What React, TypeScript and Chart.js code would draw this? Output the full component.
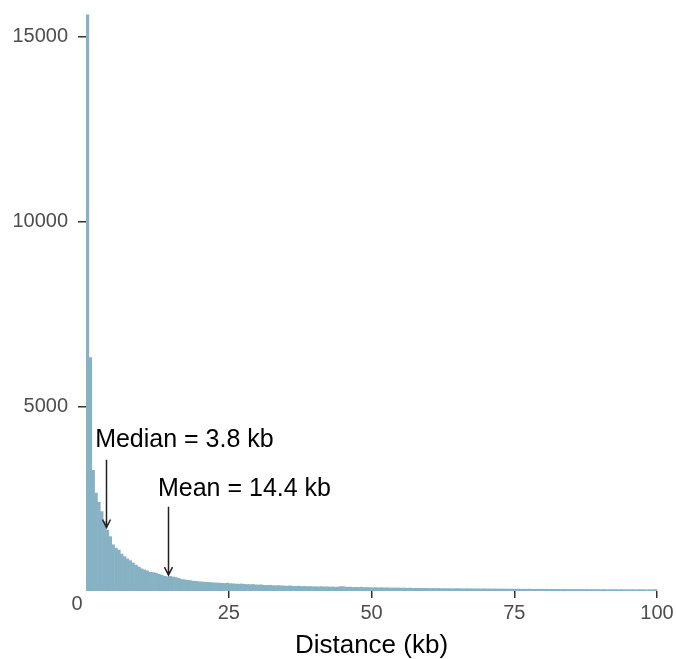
import React, { useEffect, useRef } from "react";
import { Chart, registerables } from "chart.js";

Chart.register(...registerables);

// Histogram counts, bin width 0.5 kb (20 bins per 10 kb)
const counts0to10 = [15600, 6320, 3270, 2650, 2400, 2150, 1880, 1650, 1470, 1250, 1160, 1110, 1000, 930, 870, 820, 760, 700, 650, 600];
const counts10to20 = [570, 545, 505, 500, 485, 455, 430, 400, 385, 395, 380, 365, 340, 315, 305, 290, 282, 268, 262, 250];
const counts20to30 = [247, 238, 236, 228, 224, 219, 214, 210, 204, 214, 199, 196, 188, 186, 191, 179, 176, 172, 176, 166];
const counts30to40 = [161, 166, 154, 151, 156, 146, 141, 149, 139, 136, 131, 139, 129, 126, 131, 121, 124, 119, 121, 116];
const counts40to50 = [116, 111, 119, 108, 113, 106, 110, 101, 109, 121, 112, 101, 106, 97, 101, 95, 103, 92, 96, 89];
const counts50to60 = [88, 93, 85, 89, 83, 87, 80, 84, 79, 82, 77, 80, 74, 79, 72, 76, 71, 73, 69, 72];
const counts60to70 = [67, 71, 66, 69, 64, 66, 63, 65, 60, 64, 61, 62, 58, 63, 57, 60, 57, 58, 55, 59];
const counts70to80 = [55, 56, 54, 57, 52, 54, 51, 55, 50, 52, 49, 53, 48, 50, 47, 51, 46, 48, 46, 49];
const counts80to90 = [45, 47, 43, 46, 44, 45, 42, 46, 41, 43, 41, 44, 40, 42, 39, 43, 38, 41, 39, 40];
const counts90to100 = [37, 41, 36, 39, 37, 38, 35, 39, 34, 37, 35, 36, 33, 37, 34, 35, 32, 36, 33, 40];

const binWidth = 0.5;
const xTicks = [25, 50, 75, 100];
const yTicks = [5000, 10000, 15000];
const xTitle = "Distance (kb)";

// Annotations
const annotationLabels = ["Median = 3.8 kb", "Mean = 14.4 kb"];
const annotationTextX = [1.6, 12.6];
const annotationTextY = [4090, 2760];
const annotationArrowX = [3.5, 14.4];
const annotationArrowTop = [3550, 2280];
const annotationArrowTip = [1720, 430];

const allCounts = [
  ...counts0to10, ...counts10to20, ...counts20to30, ...counts30to40, ...counts40to50,
  ...counts50to60, ...counts60to70, ...counts70to80, ...counts80to90, ...counts90to100,
];

const FONT = "'Liberation Sans', Helvetica, Arial, sans-serif";

export default function App() {
  const ref = useRef<HTMLCanvasElement | null>(null);

  useEffect(() => {
    if (!ref.current) return;
    const data = allCounts.map((c, i) => ({ x: i * binWidth + binWidth / 2, y: c }));

    const annotPlugin = {
      id: "annot",
      afterDraw(chart: any) {
        const { ctx, scales } = chart;
        const xs = scales.x;
        const ys = scales.y;
        ctx.save();
        ctx.fillStyle = "#4d4d4d";
        ctx.font = `20px ${FONT}`;
        ctx.textAlign = "center";
        ctx.textBaseline = "middle";
        ctx.fillText("0", xs.getPixelForValue(0) - 9, ys.getPixelForValue(0) + 13);

        for (let i = 0; i < annotationLabels.length; i++) {
          ctx.fillStyle = "#000";
          ctx.font = `25px ${FONT}`;
          ctx.textAlign = "left";
          ctx.textBaseline = "middle";
          ctx.fillText(annotationLabels[i], xs.getPixelForValue(annotationTextX[i]), ys.getPixelForValue(annotationTextY[i]));
          const ax = Math.round(xs.getPixelForValue(annotationArrowX[i])) + 0.5;
          const y1 = ys.getPixelForValue(annotationArrowTop[i]);
          const y2 = ys.getPixelForValue(annotationArrowTip[i]);
          ctx.strokeStyle = "#222";
          ctx.lineWidth = 1.5;
          ctx.beginPath();
          ctx.moveTo(ax, y1);
          ctx.lineTo(ax, y2);
          ctx.moveTo(ax - 4, y2 - 8);
          ctx.lineTo(ax, y2);
          ctx.lineTo(ax + 4, y2 - 8);
          ctx.stroke();
        }
        ctx.restore();
      },
    };

    const chart = new Chart(ref.current, {
      type: "bar",
      data: {
        datasets: [
          {
            data,
            backgroundColor: "#86b2c4",
            borderWidth: 0,
            categoryPercentage: 1,
            barPercentage: 1,
          },
        ],
      },
      options: {
        responsive: false,
        animation: false,
        layout: { padding: { top: 14, right: 19, left: 0, bottom: 0 } },
        plugins: { legend: { display: false }, tooltip: { enabled: false } },
        scales: {
          x: {
            type: "linear",
            min: 0,
            max: 100,
            offset: false,
            grid: { offset: false, drawOnChartArea: false, drawTicks: true, tickLength: 7, tickColor: "#333", lineWidth: 1.5 },
            border: { display: false },
            afterBuildTicks: (s: any) => { s.ticks = xTicks.map((v) => ({ value: v })); },
            afterFit: (s: any) => { s.height = 68; s.paddingLeft = 0; s.paddingRight = 0; },
            ticks: { color: "#4d4d4d", font: { family: FONT, size: 20 }, padding: 3, maxRotation: 0, callback: (v: any) => String(v) },
            title: { display: true, text: xTitle, color: "#000", font: { family: FONT, size: 26, lineHeight: 1.05 }, padding: { top: 0, bottom: 0 } },
          },
          y: {
            type: "linear",
            min: 0,
            max: 15620,
            grid: { drawOnChartArea: false, drawTicks: true, tickLength: 8, tickColor: "#333", lineWidth: 1.5 },
            border: { display: false },
            afterBuildTicks: (s: any) => { s.ticks = yTicks.map((v) => ({ value: v })); },
            afterFit: (s: any) => { s.width = 86; s.paddingTop = 0; s.paddingBottom = 0; },
            ticks: { color: "#4d4d4d", font: { family: FONT, size: 20 }, padding: 10, callback: (v: any) => String(v) },
          },
        },
      },
      plugins: [annotPlugin],
    });
    return () => chart.destroy();
  }, []);

  return (
    <div style={{ position: "fixed", left: 0, top: 0, width: 676, height: 659, background: "#fff" }}>
      <canvas ref={ref} width={676} height={659} />
    </div>
  );
}
